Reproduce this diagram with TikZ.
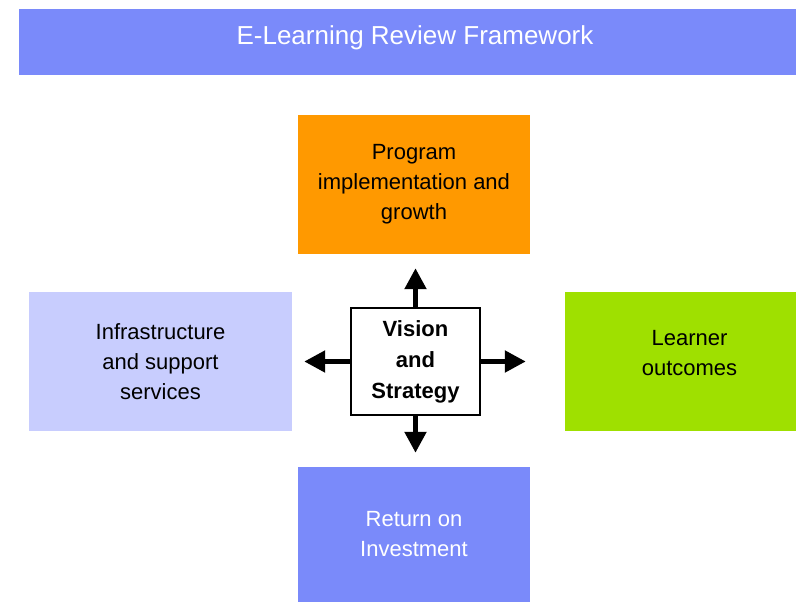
\documentclass[tikz,border=0pt]{standalone}
\usepackage{fontspec}
\setmainfont{Liberation Sans}
\usepackage{tikz}
\usetikzlibrary{arrows.meta,positioning}
\definecolor{BannerBlue}{HTML}{7A8AFA}
\definecolor{PaleBlue}{HTML}{C8CDFE}
\definecolor{ProgOrange}{HTML}{FF9900}
\definecolor{LimeGreen}{HTML}{9FE000}
\tikzset{
  panel/.style={rectangle,draw=none,align=center,inner sep=0pt,font=\fontsize{22}{30}\selectfont},
  hub/.style={rectangle,draw=black,line width=1.6pt,fill=white,align=center,inner sep=0pt,font=\fontsize{22}{31}\selectfont\bfseries},
  push/.style={-{Triangle[length=21pt,width=21pt]},line width=5pt,draw=black}
}
\begin{document}
\begin{tikzpicture}[x=1pt,y=-1pt]
  \useasboundingbox (0,0) rectangle (796,602);
  % header bar
  \node[rectangle,fill=BannerBlue,minimum width=777pt,minimum height=66pt,inner sep=0pt] (banner) at (407.5,42) {};
  \node[text=white,font=\fontsize{26}{30}\selectfont] (title) at (415,38) {E-Learning Review Framework};
  % the four areas round the centre
  \node[panel,fill=ProgOrange,minimum width=232pt,minimum height=139pt] (prog) at (414,184.5)
    {Program\\implementation and\\growth};
  \node[panel,fill=PaleBlue,minimum width=263pt,minimum height=139pt] (infra) at (160.5,361.5)
    {Infrastructure\\and support\\services};
  \node[panel,fill=LimeGreen,minimum width=231pt,minimum height=139pt,text depth=18pt] (learn) at (680.5,361.5)
    {\hspace*{18pt}Learner\\\hspace*{18pt}outcomes};
  \node[panel,fill=BannerBlue,text=white,minimum width=232pt,minimum height=135pt] (roi) at (414,534.5)
    {Return on\\Investment};
  \node[hub,minimum width=129pt,minimum height=107pt] (vision) at (415.5,361.5)
    {Vision\\and\\Strategy};
  % arrows out of the hub
  \draw[push,shorten >=14pt] (vision.north) -- (vision.north |- prog.south);
  \draw[push,shorten >=14pt] (vision.south) -- (vision.south |- roi.north);
  \draw[push,shorten >=12pt] (vision.west) -- (infra.east);
  \draw[push,shorten >=39pt] (vision.east) -- (learn.west);
\end{tikzpicture}
\end{document}
